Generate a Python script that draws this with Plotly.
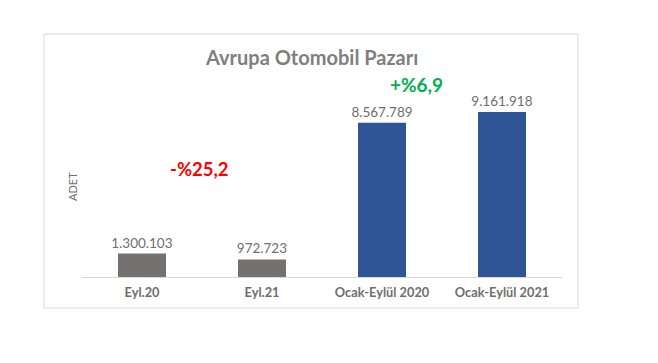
import plotly.graph_objects as go

categories = ["Eyl.20", "Eyl.21", "Ocak-Eylül 2020", "Ocak-Eylül 2021"]
values = [1300103, 972723, 8567789, 9161918]
labels = ["1.300.103", "972.723", "8.567.789", "9.161.918"]
colors = ["#767171", "#767171", "#2F5597", "#2F5597"]
title = "Avrupa Otomobil Pazarı"
change_month = "-%25,2"
change_ytd = "+%6,9"
axis_title = "ADET"

FONT = "Lato, DejaVu Sans"
GRAY = "#6e6e6e"

fig = go.Figure()
fig.add_trace(go.Bar(
    x=categories, y=values, text=labels, textposition="outside",
    constraintext="none",
    marker=dict(color=colors, line=dict(width=0)), width=0.4,
    textfont=dict(family=FONT, size=13.5, color=GRAY),
    cliponaxis=False,
))

fig.update_layout(
    width=650, height=355,
    margin=dict(l=74, r=96, t=62, b=86),
    paper_bgcolor="white", plot_bgcolor="white",
    showlegend=False,
    xaxis=dict(type="category", showgrid=False, showline=True, linecolor="#d9d9d9", linewidth=1,
               ticks="", ticklabelstandoff=4,
               tickfont=dict(family=FONT, size=12.8, color=GRAY, weight="bold")),
    yaxis=dict(range=[0, 11.5e6], showgrid=False, showticklabels=False, zeroline=False),
    annotations=[
        dict(text=title, xref="paper", yref="paper", x=0.479, y=1.063, showarrow=False,
             font=dict(family=FONT, size=20, color="#7f7f7f", weight="bold"),
             xanchor="center", yanchor="middle"),
        dict(text=axis_title, xref="paper", yref="paper", x=-0.01875, y=0.435, showarrow=False,
             textangle=-90, font=dict(family=FONT, size=11, color=GRAY),
             xanchor="center", yanchor="middle"),
        dict(text=change_ytd, xref="x", yref="y", x=2.29, y=10.72e6, showarrow=False,
             font=dict(family=FONT, size=19, color="#00B050", weight="bold"),
             xanchor="center", yanchor="middle"),
        dict(text=change_month, xref="x", yref="y", x=0.483, y=6.0e6, showarrow=False,
             font=dict(family=FONT, size=18.5, color="#FF0000", weight="bold"),
             xanchor="center", yanchor="middle"),
    ],
    shapes=[dict(type="rect", xref="paper", yref="paper", x0=-0.0792, x1=1.0333, y0=-0.1498, y1=1.174,
                 line=dict(color="#d9d9d9", width=1), fillcolor="rgba(0,0,0,0)")],
)

fig.write_html("out.html")
